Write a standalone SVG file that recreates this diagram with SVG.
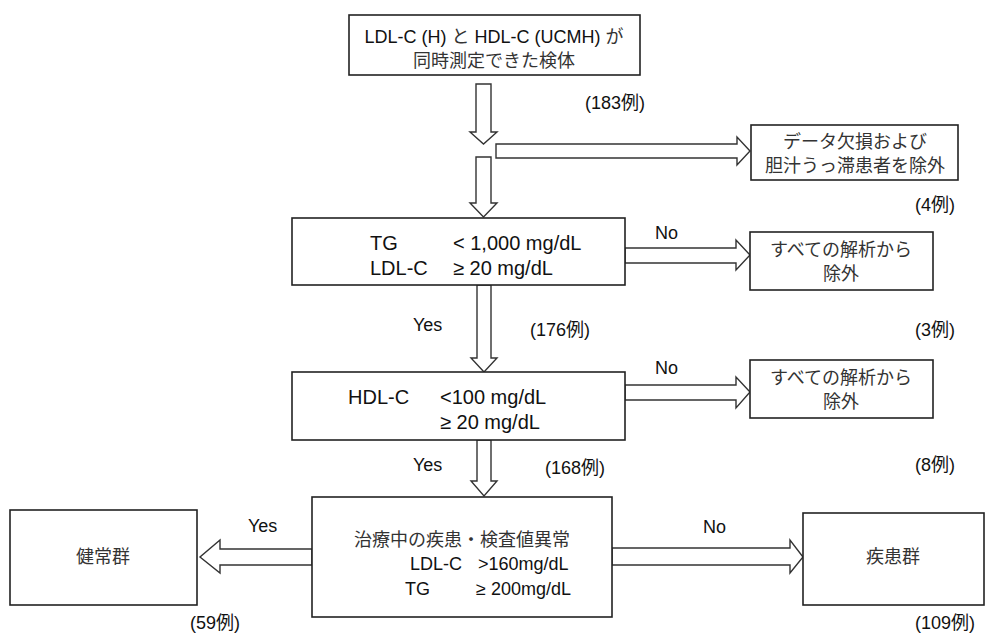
<svg xmlns="http://www.w3.org/2000/svg" width="987" height="634" viewBox="0 0 987 634">
<style>
.box{fill:#fff;stroke:#222;stroke-width:1.6}
.arr{fill:#fff;stroke:#333;stroke-width:1.4;stroke-linejoin:miter}
text{font-family:"Liberation Sans","Noto Sans CJK JP",sans-serif;fill:#111;font-size:18px}
.jp{font-family:"Noto Sans CJK JP","Liberation Sans",sans-serif;font-size:18px;fill:#333}
.big{font-size:20px}
.c{text-anchor:middle}
</style>
<rect width="987" height="634" fill="#fff"/>
<g id="connectors">
<polygon class="arr" points="476,84 491,84 491,132 497,132 483.5,144 470,132 476,132"/>
<polygon class="arr" points="496,144 737,144 737,137 750,151 737,165 737,158 496,158"/>
<polygon class="arr" points="476,157 491,157 491,203 497,203 483.5,217 470,203 476,203"/>
<polygon class="arr" points="625,248 736,248 736,240 750,255 736,270 736,263 625,263"/>
<polygon class="arr" points="477,285 491,285 491,358 497,358 484,372 471,358 477,358"/>
<polygon class="arr" points="625,385 736,385 736,377 750,392 736,408 736,400 625,400"/>
<polygon class="arr" points="477,440 491,440 491,481 497,481 484,496 471,481 477,481"/>
<polygon class="arr" points="312,549 220,549 220,540 200,557 220,573 220,565 312,565"/>
<polygon class="arr" points="612,548 790,548 790,540 803,557 790,573 790,565 612,565"/>
<text x="585" y="109">(183例)</text>
<text x="915" y="211">(4例)</text>
<text x="655" y="239">No</text>
<text x="413" y="331">Yes</text>
<text x="530" y="336">(176例)</text>
<text x="915" y="336">(3例)</text>
<text x="655" y="374">No</text>
<text x="413" y="471">Yes</text>
<text x="545" y="474">(168例)</text>
<text x="915" y="471">(8例)</text>
<text x="248" y="532">Yes</text>
<text x="703" y="533">No</text>
<text x="190" y="629">(59例)</text>
<text x="915" y="629">(109例)</text>
</g>
<g id="n1">
<rect class="box" x="349" y="15" width="291" height="60"/>
<text x="494" y="43" class="c" font-size="18.5">LDL-C (H) <tspan class="jp">と</tspan> HDL-C (UCMH) <tspan class="jp">が</tspan></text>
<text x="494" y="67" class="c jp">同時測定できた検体</text>
</g>
<g id="n2">
<rect class="box" x="751" y="125" width="207" height="55"/>
<text x="855" y="148" class="c jp">データ欠損および</text>
<text x="855" y="172" class="c jp">胆汁うっ滞患者を除外</text>
</g>
<g id="n3">
<rect class="box" x="292" y="218" width="333" height="67"/>
<text x="370" y="250" class="big">TG</text>
<text x="453" y="250" class="big">&lt; 1,000 mg/dL</text>
<text x="370" y="275" class="big">LDL-C</text>
<text x="453" y="275" class="big">≥ 20 mg/dL</text>
</g>
<g id="n4">
<rect class="box" x="750" y="232" width="183" height="58"/>
<text x="841" y="256" class="c jp">すべての解析から</text>
<text x="841" y="280" class="c jp">除外</text>
</g>
<g id="n5">
<rect class="box" x="292" y="372" width="333" height="68"/>
<text x="348" y="404" class="big">HDL-C</text>
<text x="440" y="404" class="big">&lt;100 mg/dL</text>
<text x="440" y="429" class="big">≥ 20 mg/dL</text>
</g>
<g id="n6">
<rect class="box" x="750" y="360" width="183" height="58"/>
<text x="841" y="384" class="c jp">すべての解析から</text>
<text x="841" y="408" class="c jp">除外</text>
</g>
<g id="n7">
<rect class="box" x="312" y="497" width="300" height="120"/>
<text x="462" y="546" class="c jp">治療中の疾患・検査値異常</text>
<text x="410" y="570">LDL-C</text>
<text x="478" y="570">&gt;160mg/dL</text>
<text x="405" y="595">TG</text>
<text x="476" y="595">≥ 200mg/dL</text>
</g>
<g id="n8">
<rect class="box" x="10" y="510" width="187" height="95"/>
<text x="103" y="563" class="c jp" font-size="17">健常群</text>
</g>
<g id="n9">
<rect class="box" x="803" y="513" width="181" height="92"/>
<text x="893" y="563" class="c jp" font-size="17">疾患群</text>
</g>
</svg>
